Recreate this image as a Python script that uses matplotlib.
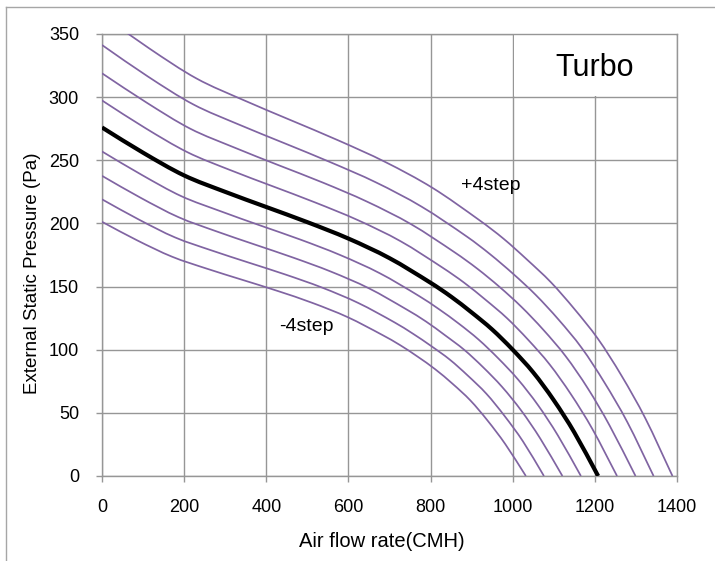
import matplotlib
matplotlib.use('Agg')
import matplotlib.pyplot as plt
from matplotlib import font_manager
from matplotlib.lines import Line2D
from matplotlib.patches import Rectangle, PathPatch
from matplotlib.path import Path

# Air flow rate (CMH) and external static pressure (Pa), one pair per fan step
flow_m4 = [0, 85, 171, 256, 342, 427, 512, 598, 683, 726, 769, 811, 854, 897, 939, 982, 1032]
pres_m4 = [201.3, 186.7, 173.6, 164.1, 155.3, 146.6, 137.1, 125.8, 111.6, 103.6, 94.4, 84.6, 72.9, 59.8, 43.8, 25.2, 0]

flow_m3 = [0, 89, 178, 267, 356, 446, 535, 624, 713, 757, 802, 847, 891, 936, 980, 1025, 1076]
pres_m3 = [219.1, 203.2, 188.9, 178.6, 169.1, 159.6, 149.3, 137.0, 121.5, 112.7, 102.8, 92.1, 79.4, 65.1, 47.6, 27.4, 0]

flow_m2 = [0, 93, 186, 278, 371, 464, 557, 650, 742, 789, 835, 882, 928, 974, 1021, 1067, 1121]
pres_m2 = [237.7, 220.5, 205.0, 193.8, 183.4, 173.1, 161.9, 148.6, 131.8, 122.3, 111.5, 99.9, 86.1, 70.6, 51.7, 29.7, 0]

flow_m1 = [0, 97, 193, 290, 386, 483, 579, 676, 772, 820, 869, 917, 965, 1013, 1062, 1110, 1166]
pres_m1 = [257.0, 238.4, 221.6, 209.5, 198.3, 187.2, 175.1, 160.6, 142.5, 132.2, 120.6, 108.0, 93.1, 76.4, 55.9, 32.1, 0]

flow_0 = [0, 100, 200, 300, 400, 500, 600, 700, 800, 850, 900, 950, 1000, 1050, 1100, 1150, 1208]
pres_0 = [276, 256, 238, 225, 213, 201, 188, 172.5, 153, 142, 129.5, 116, 100, 82, 60, 34.5, 0]

flow_p1 = [0, 104, 208, 311, 415, 519, 623, 727, 830, 882, 934, 986, 1038, 1090, 1142, 1194, 1254]
pres_p1 = [297.4, 275.8, 256.4, 242.4, 229.5, 216.6, 202.6, 185.9, 164.8, 153.0, 139.5, 125.0, 107.7, 88.3, 64.6, 37.2, 0]

flow_p2 = [0, 108, 215, 323, 430, 538, 645, 753, 860, 914, 968, 1021, 1075, 1129, 1183, 1236, 1299]
pres_p2 = [318.9, 295.8, 275.0, 260.0, 246.1, 232.3, 217.3, 199.3, 176.8, 164.1, 149.7, 134.0, 115.6, 94.8, 69.3, 39.9, 0]

flow_p3 = [0, 111, 222, 334, 445, 556, 667, 778, 890, 945, 1001, 1056, 1112, 1168, 1223, 1279, 1343]
pres_p3 = [341.3, 316.5, 294.3, 278.2, 263.4, 248.5, 232.5, 213.3, 189.2, 175.6, 160.1, 143.4, 123.7, 101.4, 74.2, 42.7, 0]

flow_p4 = [0, 115, 230, 345, 460, 575, 690, 805, 920, 978, 1035, 1093, 1150, 1208, 1265, 1323, 1389]
pres_p4 = [365.0, 338.6, 314.8, 297.6, 281.7, 265.8, 248.6, 228.1, 202.3, 187.8, 171.3, 153.4, 132.3, 108.4, 79.4, 45.6, 0]

x_ticks = [0, 200, 400, 600, 800, 1000, 1200, 1400]
y_ticks = [0, 50, 100, 150, 200, 250, 300, 350]

purple = '#8064A2'
grey = '#969696'


def smooth_path(xs, ys):
    # smoothed line like Excel's: cubic Bezier pieces through the read points
    n = len(xs)
    slopes = []
    for i in range(n):
        a, b = max(i - 1, 0), min(i + 1, n - 1)
        slopes.append((ys[b] - ys[a]) / (xs[b] - xs[a]))
    verts = [(xs[0], ys[0])]
    codes = [Path.MOVETO]
    for i in range(n - 1):
        h = xs[i + 1] - xs[i]
        verts += [(xs[i] + h / 3, ys[i] + slopes[i] * h / 3),
                  (xs[i + 1] - h / 3, ys[i + 1] - slopes[i + 1] * h / 3),
                  (xs[i + 1], ys[i + 1])]
        codes += [Path.CURVE4] * 3
    return Path(verts, codes)


names = {f.name for f in font_manager.fontManager.ttflist}
if 'Liberation Sans Narrow' in names:
    tick_font, tick_size = 'Liberation Sans Narrow', 14.5
else:
    tick_font, tick_size = 'Liberation Sans', 13

plt.rcParams['font.family'] = ['Liberation Sans', 'DejaVu Sans']

fig = plt.figure(figsize=(7.15, 5.61), dpi=100)
ax = fig.add_axes([102 / 715, 1 - 476 / 561, 575 / 715, 442 / 561])

for fx, py in [(flow_m4, pres_m4), (flow_m3, pres_m3), (flow_m2, pres_m2), (flow_m1, pres_m1),
               (flow_p1, pres_p1), (flow_p2, pres_p2), (flow_p3, pres_p3), (flow_p4, pres_p4)]:
    ax.add_patch(PathPatch(smooth_path(fx, py), fill=False, edgecolor=purple, lw=1.25, zorder=3))
ax.add_patch(PathPatch(smooth_path(flow_0, pres_0), fill=False, edgecolor='black', lw=3.0,
                       capstyle='butt', zorder=4))

ax.set_xlim(0, 1400)
ax.set_ylim(0, 350)
ax.set_xticks(x_ticks)
ax.set_yticks(y_ticks)
ax.set_xticklabels([str(v) for v in x_ticks], fontfamily=tick_font, fontsize=tick_size)
ax.set_yticklabels([str(v) for v in y_ticks], fontfamily=tick_font, fontsize=tick_size)
ax.tick_params(axis='both', direction='out', length=4.5, width=1.0, color=grey, pad=12)
ax.grid(True, color=grey, lw=1.0)
ax.set_axisbelow(True)
for sp in ax.spines.values():
    sp.set_color(grey)
    sp.set_linewidth(1.0)

# white label box in the top right corner
ax.add_patch(Rectangle((1003, 301), 395, 48.5, facecolor='white', edgecolor='none', zorder=1.5))
ax.text(1200, 316.7, 'Turbo', fontsize=22, ha='center', va='baseline', zorder=5)
ax.text(947, 230, '+4step', fontsize=14, ha='center', va='center', zorder=5)
ax.text(497, 118, '-4step', fontsize=14, ha='center', va='center', zorder=5)

fig.text(381.5 / 715, 1 - 546.7 / 561, 'Air flow rate(CMH)', fontsize=14.5, ha='center', va='baseline')
fig.text(33 / 715, 1 - 273.5 / 561, 'External Static Pressure (Pa)', fontsize=13.5,
         rotation=90, ha='center', va='center')

# outer chart frame (left and top edges visible)
fx0, fy0 = 6 / 715, 1 - 7 / 561
fig.add_artist(Line2D([fx0, fx0], [0, fy0], color='#a6a6a6', lw=1.0, transform=fig.transFigure))
fig.add_artist(Line2D([fx0, 1], [fy0, fy0], color='#a6a6a6', lw=1.0, transform=fig.transFigure))

fig.savefig('out.png', dpi=100)
